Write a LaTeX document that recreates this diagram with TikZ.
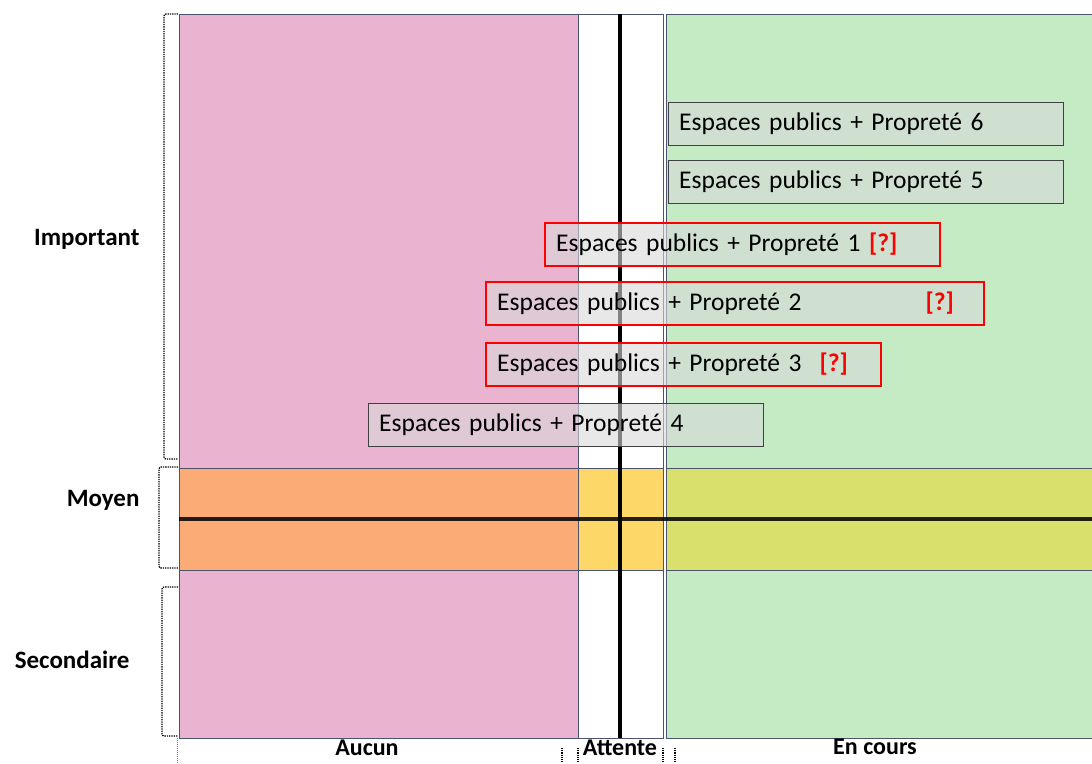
\documentclass[tikz,border=0pt]{standalone}
\usepackage{fontspec}
\setmainfont{Carlito}
\usepackage{tikz}
\usetikzlibrary{positioning}
\definecolor{aucun}{HTML}{EAB3D0}
\definecolor{moyen}{HTML}{FBAC76}
\definecolor{attente}{HTML}{FDD768}
\definecolor{encours}{HTML}{C4EBC4}
\definecolor{moyencours}{HTML}{D9E16C}
\definecolor{edge}{HTML}{4A5470}
\newcommand{\doute}{\textcolor{red}{\textbf{[?]}}}

\begin{document}
\begin{tikzpicture}[x=1pt, y=-1pt,
    col/.style={draw=edge, line width=0.8pt},
    task/.style={draw=black!75, fill=gray!30, fill opacity=0.6, text opacity=1,
        anchor=north west, minimum height=43pt, inner xsep=11pt, inner ysep=0pt,
        text width=373pt, align=left, font=\fontsize{25.5}{30}\selectfont},
    doubt/.style={task, draw=red, line width=2.4pt},
    prio/.style={anchor=east, font=\bfseries\fontsize{25}{30}\selectfont},
    state/.style={inner sep=1pt, font=\bfseries\fontsize{24}{28}\selectfont},
    bracket/.style={densely dotted, line width=1.3pt, rounded corners=2pt}
]
    \useasboundingbox (0,0) rectangle (1092,763);

    % columns
    \filldraw[col, fill=aucun] (179,14) rectangle (578,738);
    \filldraw[col, fill=white] (578,14) rectangle (663,738);
    \filldraw[col, fill=encours] (666,14) rectangle (1096,738);

    % middle band
    \filldraw[col, fill=moyen] (179,468) rectangle (578,570);
    \filldraw[col, fill=attente] (578,468) rectangle (663,570);
    \filldraw[col, fill=moyencours] (666,468) rectangle (1096,570);

    % axes
    \draw[black, line width=4.5pt] (620,14) -- (620,738);
    \draw[black, opacity=0.85, line width=3.5pt] (179,519) -- (1096,519);

    % tasks
    \node[task] (t6) at (668,102) {Espaces publics + Propreté 6};
    \node[task] (t5) at (668,160) {Espaces publics + Propreté 5};
    \node[doubt] (t1) at (544,222) {Espaces publics + Propreté 1 \doute};
    \node[doubt, text width=476pt] (t2) at (485,281) {Espaces publics + Propreté 2\hspace{124pt}\doute};
    \node[doubt] (t3) at (485,342) {Espaces publics + Propreté 3\hspace{18pt}\doute};
    \node[task] (t4) at (368,403) {Espaces publics + Propreté 4};

    % priorities
    \node[prio] (imp) at (143,239) {Important};
    \node[prio] (moy) at (143,500) {Moyen};
    \node[prio] (sec) at (133,660) {Secondaire};
    \draw[bracket] (178,14) -- (164,14) -- (164,459) -- (178,459);
    \draw[bracket] (178,467) -- (159,467) -- (159,568) -- (178,568);
    \draw[bracket] (178,587) -- (162,587) -- (162,736) -- (178,736);
    \draw[densely dotted, line width=1pt, gray] (177,738) -- (177,763);

    % states
    \node[state] (auc) at (367,748) {Aucun};
    \node[state] (att) at (620,748) {Attente};
    \node[state] (enc) at (875,747) {En cours};
    \foreach \x in {562,578,663,675}
        \draw[densely dotted, line width=1.2pt] (\x,748) -- (\x,763);
\end{tikzpicture}
\end{document}
